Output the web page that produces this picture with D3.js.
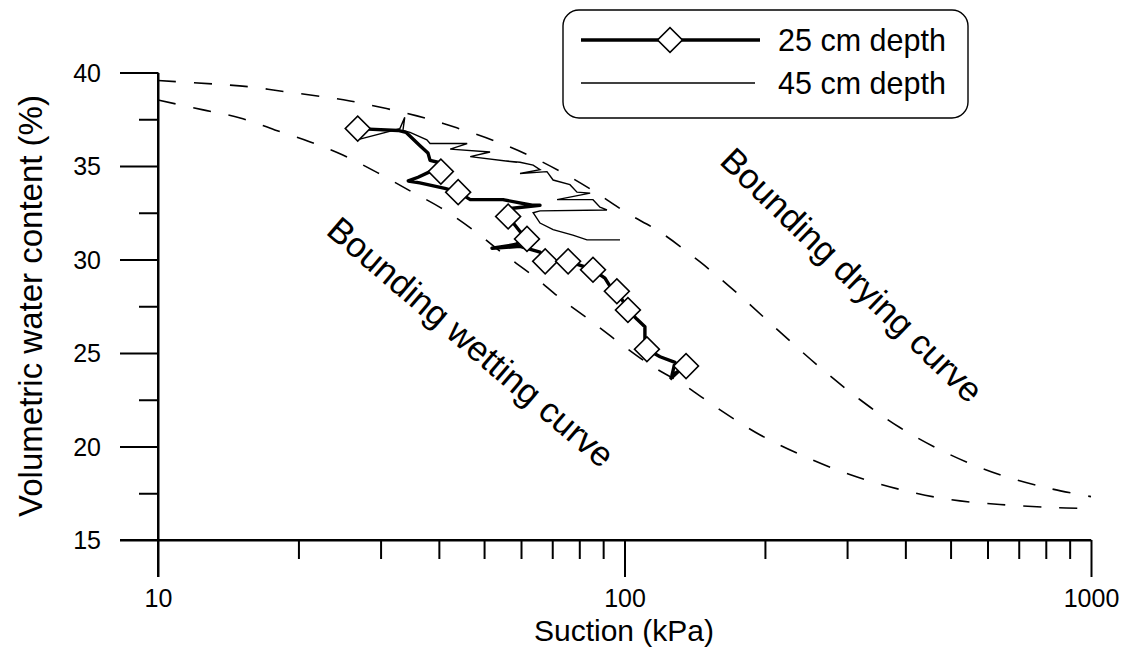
<!DOCTYPE html>
<html>
<head>
<meta charset="UTF-8">
<title>Suction vs volumetric water content</title>
<script src="https://cdn.jsdelivr.net/npm/d3@7/dist/d3.min.js"></script>
<style>
    body, html { margin: 0; padding: 0; background: #fff; }
    svg text { font-family: "Liberation Sans", Arial, sans-serif; fill: #000; }
</style>
</head>
<body>
<svg id="chart" width="1133" height="670"></svg>
<script>
// tick values
var xMajorTicks = [10, 100, 1000];
var xMinorTicks = [20, 30, 40, 50, 60, 70, 80, 90, 200, 300, 400, 500, 600, 700, 800, 900];
var yMajorTicks = [15, 20, 25, 30, 35, 40];
var yMinorTicks = [17.5, 22.5, 27.5, 32.5, 37.5];

// bounding curves [suction kPa, water content %]
var dryingCurve = [[10, 39.57], [13.1, 39.39], [15.8, 39.23], [18.9, 38.96], [22.8, 38.69], [25.8, 38.48],
    [35.9, 37.68], [43.7, 37.04], [53.3, 36.29], [62.7, 35.54], [73.8, 34.63], [86.4, 33.62], [101, 32.5],
    [119, 31.48], [145, 29.88], [177, 28.06], [215, 26.14], [263, 24.21], [320, 22.5], [390, 21.0],
    [499, 19.56], [638, 18.49], [817, 17.75], [1000, 17.32]];
var wettingCurve = [[10, 38.53], [12.5, 38.0], [15.0, 37.57], [17.8, 36.93], [21.2, 36.29], [24.9, 35.59],
    [29.6, 34.63], [34.7, 33.67], [40.4, 32.76], [47.3, 31.59], [54.6, 30.36], [63.7, 29.13], [73.5, 27.85],
    [85.2, 26.67], [98.8, 25.44], [115, 24.27], [132, 23.41], [160, 21.97], [195, 20.63], [238, 19.57],
    [304, 18.5], [390, 17.7], [499, 17.16], [638, 16.9], [817, 16.74], [1000, 16.68]];

// measured paths
var depth25 = [[26.8, 37.0], [32.7, 36.9], [34.0, 36.8], [36.4, 36.1], [37.9, 35.7], [38.3, 35.3], [39.8, 35.2],
    [40.4, 34.7], [38.3, 34.7], [36.1, 34.4], [34.4, 34.2], [36.4, 34.1], [41.2, 33.8], [44.0, 33.6],
    [46.7, 33.2], [54.9, 33.2], [63.4, 32.9], [65.9, 32.9], [55.4, 32.7], [56.3, 32.3], [59.7, 31.5],
    [61.8, 31.1], [58.3, 30.8], [52.0, 30.6], [59.7, 30.7], [65.9, 30.4], [67.6, 29.9], [72.7, 29.9],
    [75.7, 29.9], [82.3, 29.6], [88.6, 29.45], [85.6, 29.45], [90.8, 29.0], [94.0, 28.4], [96.3, 28.3],
    [98.8, 27.85], [101.7, 27.3], [106.4, 26.8], [110.6, 26.4], [110.6, 25.7], [111.7, 25.2], [119.2, 24.8],
    [128.3, 24.5], [126.4, 23.8], [135.5, 24.3], [130.2, 24.0], [125.2, 23.6]];
var depth25Markers = [0, 7, 13, 19, 21, 26, 28, 31, 34, 36, 40, 44];
var depth45 = [[26.7, 36.4], [33.0, 37.0], [33.8, 37.6], [33.5, 36.9], [34.7, 36.8], [37.7, 36.4], [38.3, 36.2],
    [46.0, 36.2], [42.3, 35.9], [51.5, 35.75], [46.7, 35.5], [58.8, 35.2], [54.1, 35.3], [59.7, 35.2],
    [63.7, 35.05], [65.9, 34.8], [59.7, 34.6], [68.2, 34.7], [70.3, 34.25], [76.4, 34.0], [79.1, 33.6],
    [84.4, 33.55], [71.7, 33.2], [85.6, 33.2], [88.6, 32.8], [91.7, 32.65], [65.9, 32.6], [63.7, 32.5],
    [65.9, 31.95], [70.3, 31.6], [77.5, 31.3], [83.1, 31.05], [97.8, 31.05]];

var svg = d3.select("#chart");

var x = d3.scaleLog().domain([10, 1000]).range([158, 1091]);
var y = d3.scaleLinear().domain([15, 40]).range([540, 72.5]);

function styleAxis(g) {
    g.selectAll("path, line").attr("stroke", "#000").attr("stroke-width", 2);
}

// x axis
svg.append("g")
    .attr("transform", "translate(0,540)")
    .call(d3.axisBottom(x).tickValues(xMinorTicks).tickSize(19).tickSizeOuter(0).tickFormat(""))
    .call(styleAxis);
var xMajor = svg.append("g")
    .attr("transform", "translate(0,540)")
    .call(d3.axisBottom(x).tickValues(xMajorTicks).tickSize(37).tickSizeOuter(0).tickFormat(d3.format("d")))
    .call(styleAxis);
xMajor.selectAll("text").attr("y", 67).attr("dy", 0).attr("font-size", "25px");
xMajor.select(".domain").remove();
svg.append("line")
    .attr("x1", 120).attr("x2", x(1000)).attr("y1", 540).attr("y2", 540)
    .attr("stroke", "#000").attr("stroke-width", 2);

// y axis
svg.append("g")
    .attr("transform", "translate(158,0)")
    .call(d3.axisLeft(y).tickValues(yMinorTicks).tickSize(19).tickSizeOuter(0).tickFormat(""))
    .call(styleAxis);
var yMajor = svg.append("g")
    .attr("transform", "translate(158,0)")
    .call(d3.axisLeft(y).tickValues(yMajorTicks).tickSize(38).tickPadding(19).tickSizeOuter(0))
    .call(styleAxis);
yMajor.selectAll("text").attr("font-size", "25px").attr("dy", "0.35em");
yMajor.select(".domain").remove();
svg.append("line")
    .attr("x1", 158).attr("x2", 158).attr("y1", y(40)).attr("y2", 577)
    .attr("stroke", "#000").attr("stroke-width", 2);

// axis titles
svg.append("text")
    .attr("x", 624).attr("y", 641)
    .attr("text-anchor", "middle")
    .attr("font-size", "30px")
    .text("Suction (kPa)");
svg.append("text")
    .attr("transform", "translate(42,306) rotate(-90)")
    .attr("text-anchor", "middle")
    .attr("font-size", "33px")
    .text("Volumetric water content (%)");

// bounding curves
var curveLine = d3.line()
    .x(function (d) { return x(d[0]); })
    .y(function (d) { return y(d[1]); })
    .curve(d3.curveCatmullRom);

[dryingCurve, wettingCurve].forEach(function (c) {
    svg.append("path")
        .attr("d", curveLine(c))
        .attr("fill", "none")
        .attr("stroke", "#000")
        .attr("stroke-width", 1.6)
        .attr("stroke-dasharray", "18,18");
});

// data lines
var dataLine = d3.line()
    .x(function (d) { return x(d[0]); })
    .y(function (d) { return y(d[1]); });

svg.append("path")
    .attr("d", dataLine(depth45))
    .attr("fill", "none")
    .attr("stroke", "#000")
    .attr("stroke-width", 1.4);

svg.append("path")
    .attr("d", dataLine(depth25))
    .attr("fill", "none")
    .attr("stroke", "#000")
    .attr("stroke-width", 3.4)
    .attr("stroke-linejoin", "round");

var diamond = d3.symbol().type(d3.symbolSquare).size(310);
svg.selectAll(".marker")
    .data(depth25Markers.map(function (i) { return depth25[i]; }))
    .enter()
    .append("path")
    .attr("class", "marker")
    .attr("d", diamond)
    .attr("transform", function (d) { return "translate(" + x(d[0]) + "," + y(d[1]) + ") rotate(45)"; })
    .attr("fill", "#fff")
    .attr("stroke", "#000")
    .attr("stroke-width", 1.6);

// curve annotations
svg.append("text")
    .attr("transform", "translate(471,342) rotate(40.5)")
    .attr("text-anchor", "middle")
    .attr("dy", "0.35em")
    .attr("font-size", "35px")
    .text("Bounding wetting curve");
svg.append("text")
    .attr("transform", "translate(852,275) rotate(44)")
    .attr("text-anchor", "middle")
    .attr("dy", "0.35em")
    .attr("font-size", "35px")
    .text("Bounding drying curve");

// legend
var legend = svg.append("g");
legend.append("rect")
    .attr("x", 563).attr("y", 10).attr("width", 405).attr("height", 108).attr("rx", 16)
    .attr("fill", "#fff").attr("stroke", "#000").attr("stroke-width", 1.4);
legend.append("line")
    .attr("x1", 581).attr("x2", 760).attr("y1", 40).attr("y2", 40)
    .attr("stroke", "#000").attr("stroke-width", 3.4);
legend.append("path")
    .attr("d", diamond)
    .attr("transform", "translate(670,40) rotate(45)")
    .attr("fill", "#fff").attr("stroke", "#000").attr("stroke-width", 1.6);
legend.append("text").attr("x", 778).attr("y", 51).attr("font-size", "30.5px").text("25 cm depth");
legend.append("line")
    .attr("x1", 581).attr("x2", 755).attr("y1", 83).attr("y2", 83)
    .attr("stroke", "#000").attr("stroke-width", 1.4);
legend.append("text").attr("x", 778).attr("y", 94).attr("font-size", "30.5px").text("45 cm depth");
</script>
</body>
</html>
